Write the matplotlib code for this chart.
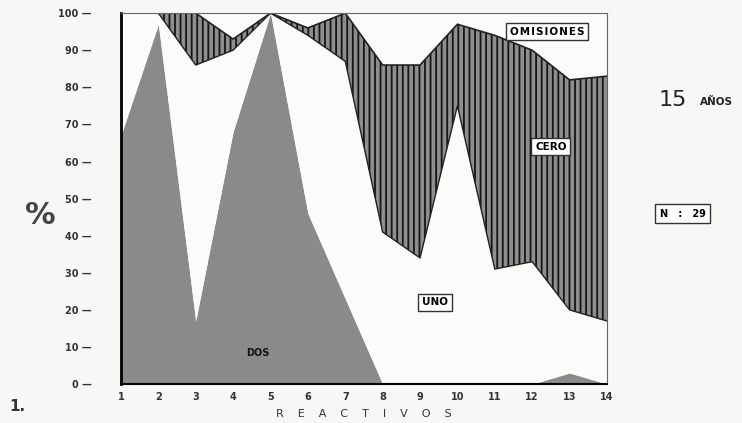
import matplotlib.pyplot as plt
import numpy as np

reactivos = list(range(1, 15))
dos = [67, 97, 17, 68, 100, 46, 23, 0, 0, 0, 0, 0, 3, 0]
uno = [33, 3, 69, 22, 0, 48, 64, 41, 34, 75, 31, 33, 17, 17]
cero = [0, 0, 14, 3, 0, 2, 13, 45, 52, 22, 63, 57, 62, 66]
omisiones = [0, 0, 0, 7, 0, 4, 0, 14, 14, 3, 6, 10, 18, 17]

x = np.array(reactivos)
b1 = np.array(dos)
b2 = b1 + np.array(uno)
b3 = b2 + np.array(cero)

fig = plt.figure(figsize=(7.42, 4.23), dpi=100)
fig.patch.set_facecolor('#f7f7f5')
ax = fig.add_axes([0.163, 0.092, 0.655, 0.877])
ax.set_facecolor('#fbfbfa')

# stacked areas
ax.fill_between(x, 0, b1, color='#8a8a8a', linewidth=0)
ax.fill_between(x, b1, b2, color='#fbfbfa', linewidth=0)
plt.rcParams['hatch.linewidth'] = 1.3
ax.fill_between(x, b2, b3, facecolor='#8e8e8e', edgecolor='#151515',
                hatch='|||', linewidth=0)
ax.plot(x, b2, color='#222222', lw=1.0)
ax.plot(x, b3, color='#222222', lw=1.2)

ax.set_xlim(1, 14)
ax.set_ylim(0, 100)

for side in ['top', 'right']:
    ax.spines[side].set_color('#666666')
    ax.spines[side].set_linewidth(0.8)
ax.spines['left'].set_linewidth(2)
ax.spines['bottom'].set_linewidth(1.5)

ax.set_xticks(reactivos)
ax.set_xticklabels([str(r) for r in reactivos], fontsize=7, fontweight='bold', color='#333333')
ax.tick_params(axis='x', length=0, pad=6)

yt = list(range(0, 101, 10))
ax.set_yticks(yt)
ax.set_yticklabels([f"{v} \u2014" for v in yt], fontsize=7, fontweight='bold', color='#333333')
ax.tick_params(axis='y', length=0, pad=21)

ax.set_xlabel("R    E    A    C    T    I    V    O    S", fontsize=8, color='#333333', labelpad=5)

box = dict(boxstyle='square,pad=0.35', facecolor='white', edgecolor='#333333', linewidth=1)
ax.text(12.4, 95, "O M I S I O N E S".replace(' ', '\u200a'), fontsize=7.5, fontweight='bold',
        ha='center', va='center', bbox=box)
ax.text(12.5, 64, "CERO", fontsize=7.5, fontweight='bold', ha='center', va='center', bbox=box)
ax.text(9.4, 22, "UNO", fontsize=7.5, fontweight='bold', ha='center', va='center', bbox=box)
ax.text(4.65, 8.5, "DOS", fontsize=7, fontweight='bold', ha='center', va='center', color='#111111')

fig.text(0.926, 0.763, "15", fontsize=16, ha='right', va='center', color='#222222')
fig.text(0.943, 0.758, "AÑOS", fontsize=7.5, fontweight='bold', ha='left', va='center', color='#222222')
fig.text(0.92, 0.495, "N   :   29", fontsize=7, fontweight='bold', ha='center', va='center',
         bbox=dict(boxstyle='square,pad=0.5', facecolor='white', edgecolor='#333333', linewidth=1))
fig.text(0.055, 0.49, "%", fontsize=22, fontweight='bold', ha='center', va='center', color='#444444')
fig.text(0.012, 0.04, "1.", fontsize=11, fontweight='bold', ha='left', va='center', color='#333333')

fig.savefig('out.png', dpi=100, facecolor=fig.get_facecolor())
